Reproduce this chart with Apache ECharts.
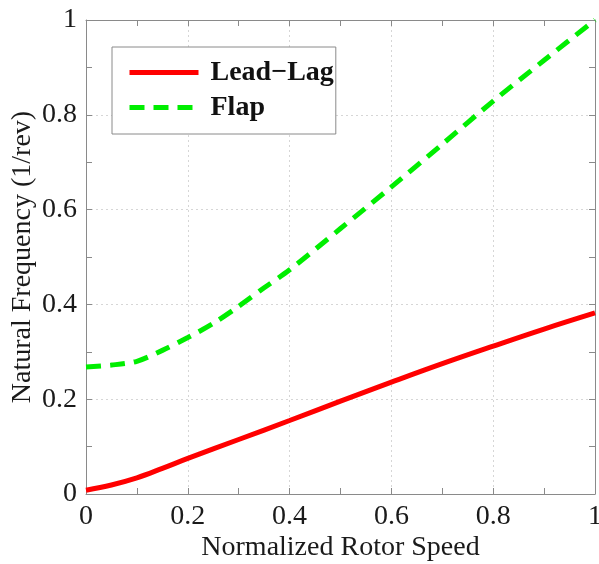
<!DOCTYPE html>
<html>
<head>
<meta charset="utf-8">
<script src="https://cdn.jsdelivr.net/npm/echarts@6/dist/echarts.min.js"></script>
<style>
  html, body { margin: 0; padding: 0; background: #fff; }
  #chart { width: 599px; height: 564px; }
</style>
</head>
<body>
<div id="chart"></div>
<script>
// Natural frequencies of the blade modes vs. normalized rotor speed
const leadLagSpeed = [0, 0.05, 0.1, 0.15, 0.2, 0.3, 0.4, 0.5, 0.6, 0.7, 0.8, 0.9, 1.0];
const leadLagFreq  = [0.008, 0.019, 0.034, 0.054, 0.075, 0.115, 0.155, 0.196, 0.236, 0.275, 0.312, 0.348, 0.382];

const flapSpeed = [0, 0.05, 0.1, 0.15, 0.2, 0.25, 0.3, 0.35, 0.4, 0.5, 0.6, 0.7, 0.8, 0.9, 1.0];
const flapFreq  = [0.268, 0.272, 0.28, 0.303, 0.33, 0.36, 0.396, 0.435, 0.473, 0.56, 0.648, 0.738, 0.829, 0.915, 1.0];

const seriesNames = ['Lead\u2212Lag', 'Flap'];
const axisTitles = { x: 'Normalized Rotor Speed', y: 'Natural Frequency (1/rev)' };

const FONT = "'Liberation Serif', 'Times New Roman', serif";
const AXIS_GREY = '#8a8a8a';

const pairs = (xs, ys) => xs.map((x, i) => [x, ys[i]]);
const fmt = v => (v === 0 ? '0' : v === 1 ? '1' : String(+v.toFixed(1)));

function frameAxis(pos, isX, main) {
  const a = {
    type: 'value',
    position: pos,
    min: 0, max: 1, interval: 0.2,
    axisLine: { show: true, onZero: false, lineStyle: { color: AXIS_GREY, width: 1 } },
    axisTick: { show: true, inside: true, length: 6, lineStyle: { color: AXIS_GREY } },
    minorTick: { show: true, splitNumber: 2, length: 6, lineStyle: { color: AXIS_GREY } },
    splitLine: { show: false },
    axisLabel: { show: false }
  };
  if (main) {
    a.splitLine = { show: true, lineStyle: { color: '#d6d6d6', type: [2, 3], width: 1 } };
    a.axisLabel = {
      show: true, formatter: fmt, margin: 9,
      color: '#1a1a1a', fontFamily: FONT, fontSize: 28
    };
    a.name = isX ? axisTitles.x : axisTitles.y;
    a.nameLocation = 'middle';
    a.nameMoveOverlap = false;
    a.nameGap = isX ? 40 : 49;
    a.nameTextStyle = { color: '#1a1a1a', fontFamily: FONT, fontSize: 28 };
  }
  return a;
}

const chart = echarts.init(document.getElementById('chart'), null, { renderer: 'canvas' });
chart.setOption({
  animation: false,
  backgroundColor: '#fff',
  grid: { left: 86, right: 4, top: 20, bottom: 70, containLabel: false, outerBoundsMode: 'none' },
  xAxis: [frameAxis('bottom', true, true), frameAxis('top', true, false)],
  yAxis: [frameAxis('left', false, true), frameAxis('right', false, false)],
  legend: {
    data: seriesNames,
    orient: 'vertical',
    left: 112, top: 47,
    itemWidth: 69, itemHeight: 2, itemGap: 0,
    padding: [8, 2, 9, 15],
    backgroundColor: '#fff',
    borderColor: '#8a8a8a', borderWidth: 1, borderRadius: 0,
    lineStyle: { width: 5 },
    textStyle: {
      fontFamily: FONT, fontSize: 28, fontWeight: 'bold', color: '#111',
      lineHeight: 35, padding: [0, 0, 0, 7]
    }
  },
  series: [
    {
      name: seriesNames[0],
      type: 'line',
      data: pairs(leadLagSpeed, leadLagFreq),
      smooth: 0.4,
      symbol: 'none',
      lineStyle: { color: '#ff0000', width: 5 },
      itemStyle: { color: '#ff0000' },
      z: 3
    },
    {
      name: seriesNames[1],
      type: 'line',
      data: pairs(flapSpeed, flapFreq),
      smooth: 0.3,
      symbol: 'none',
      lineStyle: { color: '#00ee00', width: 5, type: [15, 9] },
      itemStyle: { color: '#00ee00' },
      z: 3
    }
  ]
});
</script>
</body>
</html>
